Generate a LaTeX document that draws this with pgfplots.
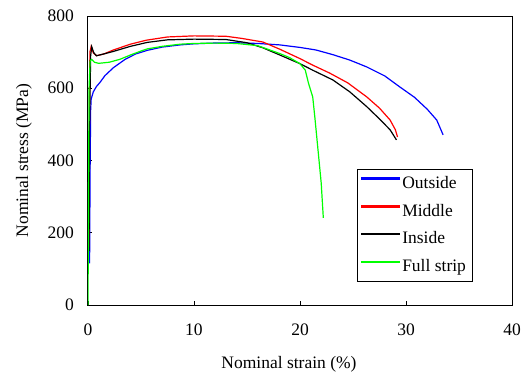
\documentclass[border=0pt]{standalone}
\usepackage{fontspec}
\setmainfont{Liberation Serif}
\usepackage{pgfplots}
\pgfplotsset{compat=1.18}
\begin{document}
\fontsize{17.5bp}{20bp}\selectfont
\begin{tikzpicture}
\begin{axis}[
  at={(0,0)}, anchor=south west,
  scale only axis, width=424bp, height=289bp,
  xmin=0, xmax=40, ymin=0, ymax=800,
  xtick={0,10,20,30,40}, ytick={0,200,400,600,800},
  tick pos=left, tick align=inside, major tick length=4bp,
  tick style={black, line width=0.6bp},
  axis line style={black, line width=1bp},
  /pgf/number format/assume math mode=true,
  ticklabel style={font=\fontsize{17.5bp}{20bp}\selectfont},
  xticklabel style={yshift=-13bp},
  yticklabel style={xshift=-8bp},
  xlabel={Nominal strain (\%)},
  ylabel={Nominal stress (MPa)},
  xlabel style={at={(axis description cs:0.474,-0.218)}, anchor=base},
  ylabel style={at={(axis description cs:-0.151,0.5)}, anchor=center},
  legend style={at={(0.906,0.4706)}, anchor=north east,
    font=\fontsize{17.5bp}{20bp}\selectfont, row sep=9bp, inner xsep=4bp, inner ysep=5bp},
  legend cell align=left,
  legend image code/.code={\fill[#1] (0bp,4.3bp) rectangle (38bp,5.7bp);},
]
\addplot[blue, line width=1.2bp] coordinates {
(0.15,115) (0.2,380) (0.25,540) (0.3,570) (0.5,590) (0.8,605) (1.1,615) (1.6,635) (2.4,657) (3.5,680) (4.5,695) (5.6,705) (7,714) (8.7,720) (10,723) (11.8,725) (14,726) (16,724) (18.1,720) (20,713) (21.5,706) (23.1,693) (24.7,678) (26.3,659) (28,634) (29.4,604) (30.8,575) (32,542) (32.9,512) (33.5,471)
};
\addlegendentry{Outside}
\addplot[red, line width=1.2bp] coordinates {
(0.08,160) (0.12,450) (0.18,700) (0.3,716) (0.5,698) (0.8,690) (1.5,695) (2.4,706) (4,722) (5.5,733) (7.5,742) (10,745) (13,744) (14.5,738) (16.5,728) (18.1,708) (20,682) (21.2,664) (22.8,642) (24.5,615) (26.3,576) (27.5,545) (28.5,512) (29,485) (29.2,465)
};
\addlegendentry{Middle}
\addplot[black, line width=1.2bp] coordinates {
(0.1,150) (0.15,500) (0.25,690) (0.35,715) (0.55,698) (0.8,690) (1.5,695) (2.4,702) (4,716) (5.6,727) (7.5,734) (10,736) (13,735) (15,726) (16.5,712) (18.1,692) (20,668) (21.2,650) (23.1,623) (24.7,590) (26.3,549) (27.5,515) (28.5,485) (29.1,457)
};
\addlegendentry{Inside}
\addplot[green, line width=1.2bp] coordinates {
(0,0) (0.05,300) (0.1,600) (0.2,676) (0.35,680) (0.6,672) (1,669) (2,672) (3,680) (4,692) (5,703) (5.6,709) (7,716) (8.7,722) (10,724) (12,725) (14,724) (16,718) (18.1,696) (19,685) (20,668) (20.5,650) (20.8,614) (21.2,576) (21.4,520) (21.7,429) (22,338) (22.2,241)
};
\addlegendentry{Full strip}
\end{axis}
\useasboundingbox (-88bp,-69bp) rectangle (439bp,305bp);
\end{tikzpicture}
\end{document}
